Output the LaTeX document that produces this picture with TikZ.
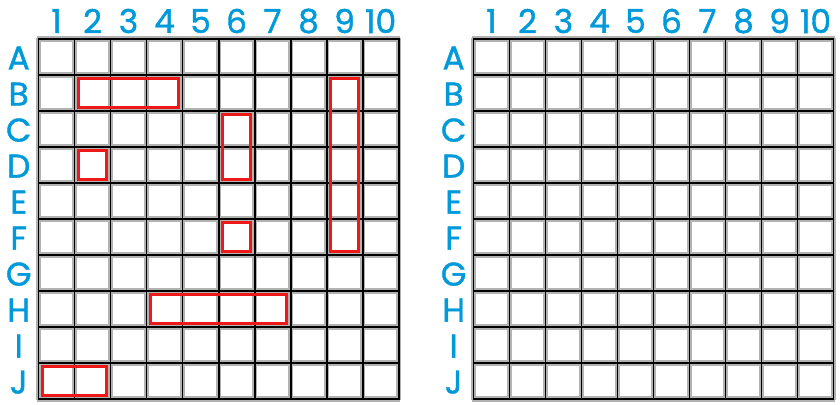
\documentclass[tikz,border=0pt]{standalone}
\usepackage{fontspec}
\setmainfont{Poppins}[FakeBold=1.2]
\usepackage{xcolor}
\usepackage{tikz}
\usetikzlibrary{positioning}
\definecolor{labelblue}{RGB}{0,153,218}
\definecolor{shipred}{RGB}{238,24,24}

\begin{document}
\begin{tikzpicture}[x=1cm,y=-1cm,
  every node/.style={text=labelblue,font=\fontsize{26}{26}\selectfont,inner sep=0pt},
  halo/.style={draw=black!30,line width=4.6pt},
  gridline/.style={draw=black,line width=1.5pt},
  ship/.style={draw=shipred,line width=2.4pt}]
  \useasboundingbox (-1.07,-1.083) rectangle (22.26,10.14);

  % Two boards: left one with ships, right one empty
  \foreach \gx/\tag in {0/L,12.08/R} {
    \foreach \i in {0,...,10} {
      \draw[halo] (\gx+\i,-0.04) -- (\gx+\i,10.04);
      \draw[halo] (\gx-0.04,\i) -- (\gx+10.04,\i);
    }
    \foreach \i in {0,...,10} {
      \draw[gridline] (\gx+\i,-0.02) -- (\gx+\i,10.02);
      \draw[gridline] (\gx-0.02,\i) -- (\gx+10.02,\i);
    }
    % column numbers and row letters
    \foreach \i in {1,...,10}
      \node (col\tag\i) at (\gx+\i-0.5,-0.5) {\i};
    \foreach \row [count=\i] in {A,B,C,D,E,F,G,H,I,J}
      \node (row\tag\row) at (\gx-0.55,\i-0.47) {\row};
  }

  % Ships on the left board
  \draw[ship] (1.1,1.1) rectangle (3.9,1.9);   % B2-B4
  \draw[ship] (8.1,1.1) rectangle (8.9,5.9);   % B9-F9
  \draw[ship] (5.1,2.1) rectangle (5.9,3.9);   % C6-D6
  \draw[ship] (1.1,3.1) rectangle (1.9,3.9);   % D2
  \draw[ship] (5.1,5.1) rectangle (5.9,5.9);   % F6
  \draw[ship] (3.1,7.1) rectangle (6.9,7.9);   % H4-H7
  \draw[ship] (0.1,9.1) rectangle (1.9,9.9);   % J1-J2
\end{tikzpicture}
\end{document}
